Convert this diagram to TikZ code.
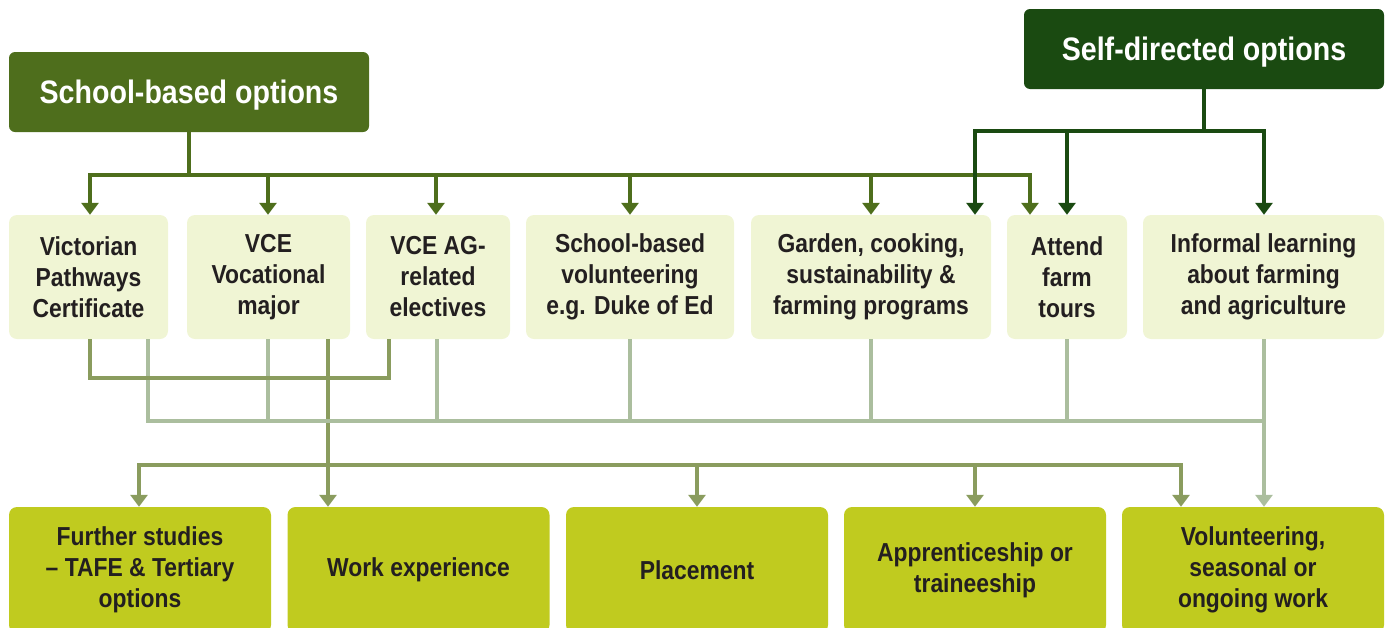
\documentclass[tikz,border=0pt]{standalone}
\usepackage{fontspec}
\setmainfont{Liberation Sans}[FakeStretch=0.88]
\usetikzlibrary{arrows.meta}
\definecolor{schoolgreen}{HTML}{4E6E1C}
\definecolor{selfgreen}{HTML}{1A4A11}
\definecolor{optfill}{HTML}{F0F5D4}
\definecolor{outfill}{HTML}{C0CB1F}
\definecolor{oliveline}{HTML}{8A9C5E}
\definecolor{paleline}{HTML}{ABBE9E}
\definecolor{inkgrey}{HTML}{231F20}
\begin{document}
\begin{tikzpicture}[x=1pt,y=-1pt,
    headbox/.style={rounded corners=6pt,minimum height=80pt,minimum width=360pt,
      text=white,font=\bfseries\fontsize{32.5}{36}\selectfont,inner sep=0pt,
      text height=23pt,text depth=0pt},
    optbox/.style={fill=optfill,rounded corners=8pt,minimum height=124pt,
      align=center,text=inkgrey,font=\bfseries\fontsize{26}{31}\selectfont,inner sep=0pt},
    outbox/.style={fill=outfill,rounded corners=8pt,minimum height=126pt,minimum width=262pt,
      align=center,text=inkgrey,font=\bfseries\fontsize{26}{31}\selectfont,inner sep=0pt},
    tip/.style={-{Triangle[width=17pt,length=12pt]}},
    schoolline/.style={draw=schoolgreen,line width=4pt},
    selfline/.style={draw=selfgreen,line width=4pt},
    oline/.style={draw=oliveline,line width=4pt},
    pline/.style={draw=paleline,line width=4pt}]
  \useasboundingbox (0,0) rectangle (1391,627);
  % heads
  \node[headbox,fill=schoolgreen] (school) at (189,92) {School-based options};
  \node[headbox,fill=selfgreen] (self) at (1204,49) {Self-directed options};
  % options
  \node[optbox,minimum width=159pt] (vpc) at (88.5,277) {Victorian\\Pathways\\Certificate};
  \node[optbox,minimum width=163pt] (vcevm) at (268.5,277) {VCE\\Vocational\\major};
  \node[optbox,minimum width=144pt] (vceag) at (438,277) {VCE AG-\\related\\electives};
  \node[optbox,minimum width=208pt] (sbv) at (630,277) {School-based\\volunteering\\e.g. Duke of Ed};
  \node[optbox,minimum width=240pt] (garden) at (871,277) {Garden, cooking,\\sustainability \&\\farming programs};
  \node[optbox,minimum width=120pt] (tours) at (1067,277) {Attend\\farm\\tours};
  \node[optbox,minimum width=241pt] (informal) at (1263.5,277) {Informal learning\\about farming\\and agriculture};
  % outcomes
  \node[outbox] (study) at (140,570) {Further studies\\– TAFE \& Tertiary\\options};
  \node[outbox] (work) at (418.5,570) {Work experience};
  \node[outbox] (place) at (697,570) {Placement};
  \node[outbox] (appr) at (975,570) {Apprenticeship or\\traineeship};
  \node[outbox] (vol) at (1253,570) {Volunteering,\\seasonal or\\ongoing work};

  % school-based bus
  \coordinate (sbus) at (school.south |- 0,175);
  \draw[schoolline] (school.south) -- (sbus);
  \draw[schoolline] (88,175) -- (1032,175);
  \foreach \x/\n in {90/vpc,268/vcevm,436/vceag,630/sbv,871/garden,1030/tours}
    \draw[schoolline,tip] (\x,175) -- (\n.north -| \x,0);
  % self-directed bus
  \coordinate (dbus) at (self.south |- 0,131);
  \draw[selfline] (self.south) -- (dbus);
  \draw[selfline] (973,131) -- (1266,131);
  \foreach \x/\n in {975/garden,1067/tours,1264/informal}
    \draw[selfline,tip] (\x,131) -- (\n.north -| \x,0);

  % vocational major down to outcomes
  \draw[oline] (vcevm.south -| 328,0) -- (328,465);
  \draw[oline] (137,465) -- (1183,465);
  \foreach \x/\n in {139/study,328/work,697/place,975/appr,1181/vol}
    \draw[oline,tip] (\x,465) -- (\n.north -| \x,0);
  % pale bus
  \foreach \x/\n in {148/vpc,268/vcevm,437/vceag,630/sbv,871/garden,1067/tours,1264/informal}
    \draw[pline] (\n.south -| \x,0) -- (\x,421);
  \draw[pline] (146,421) -- (1266,421);
  \draw[pline,tip] (1264,421) -- (vol.north -| 1264,0);
  % certificate and electives link
  \draw[oline] (vpc.south -| 90,0) |- (389,378) -- (vceag.south -| 389,0);
\end{tikzpicture}
\end{document}
